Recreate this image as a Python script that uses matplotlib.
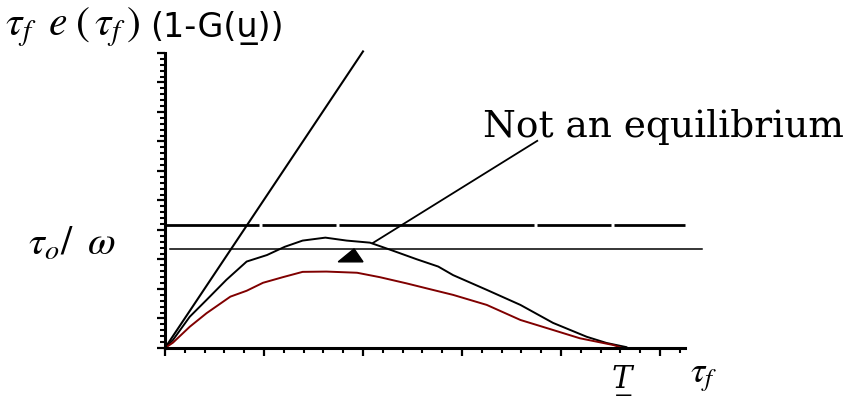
import matplotlib
matplotlib.use('Agg')
import numpy as np
import matplotlib.pyplot as plt

plt.rcParams['mathtext.fontset'] = 'stix'

# ------------------------------
# Data (x in tick units, y in tick units)

# black curve with the hump
hump_x = [0, 0.08, 0.25, 0.42, 0.62, 0.825, 1.03, 1.21, 1.39, 1.62, 1.835, 2.07,
          2.30, 2.54, 2.76, 2.91, 3.25, 3.59, 3.92, 4.26, 4.46, 4.66]
hump_y = [0, 0.27, 1.06, 1.63, 2.31, 2.93, 3.15, 3.43, 3.64, 3.74, 3.64, 3.57,
          3.30, 3.01, 2.76, 2.47, 1.97, 1.46, 0.85, 0.38, 0.17, 0.03]

# dark red curve
red_x = [0, 0.08, 0.25, 0.42, 0.66, 0.825, 0.99, 1.19, 1.39, 1.63, 1.94, 2.17,
         2.44, 2.68, 2.91, 3.25, 3.59, 3.92, 4.19, 4.53, 4.62]
red_y = [0, 0.18, 0.72, 1.18, 1.74, 1.94, 2.21, 2.40, 2.58, 2.59, 2.55, 2.40,
         2.19, 1.99, 1.80, 1.46, 0.95, 0.61, 0.33, 0.10, 0]

# steep straight line from the origin
steep_x = [0, 2.0]
steep_y = [0, 10.05]

# tau_0 / omega level (broken line) and the lower level line
upper_level = 4.17
upper_pieces = [(0, 0.95), (0.98, 1.73), (1.76, 3.73), (3.76, 4.51), (4.54, 5.25)]
lower_level = 3.36
lower_x = [0.05, 5.42]

# annotation pointer and the small black triangle
pointer_x = [2.10, 3.76]
pointer_y = [3.56, 7.02]
tri_x = [1.75, 2.0, 1.91]
tri_y = [2.92, 2.92, 3.36]

# axis extents (no tick labels in the original)
x_axis_end = 5.25
y_axis_end = 10

# ------------------------------
# Plotting

fig = plt.figure(figsize=(8.52, 3.98), dpi=100)
ax = fig.add_axes([165 / 852, 50 / 398, 545 / 852, 301 / 398])

ax.plot(steep_x, steep_y, color='black', lw=1.5, clip_on=False)
ax.plot(hump_x, hump_y, color='black', lw=1.4)
ax.plot(red_x, red_y, color='#800000', lw=1.4)

for x0, x1 in upper_pieces:
    ax.plot([x0, x1], [upper_level, upper_level], color='black', lw=2.0,
            solid_capstyle='butt')
ax.plot(lower_x, [lower_level, lower_level], color='black', lw=1.1)

ax.plot(pointer_x, pointer_y, color='black', lw=1.3)
ax.fill(tri_x, tri_y, color='black')

# axes look
for s in ['top', 'right']:
    ax.spines[s].set_visible(False)
ax.spines['left'].set_bounds(0, y_axis_end)
ax.spines['bottom'].set_bounds(0, x_axis_end)
ax.spines['left'].set_linewidth(2.2)
ax.spines['bottom'].set_linewidth(2.2)

ax.set_xticks(np.arange(0, x_axis_end + 0.01, 1))
ax.set_xticks(np.arange(0, x_axis_end + 0.01, 0.2), minor=True)
ax.set_yticks(np.arange(0, y_axis_end + 0.01, 1))
ax.set_yticks(np.arange(0, y_axis_end + 0.01, 0.2), minor=True)
ax.tick_params(which='major', direction='out', length=6, width=1.6,
               labelbottom=False, labelleft=False)
ax.tick_params(which='minor', direction='out', length=3.5, width=1.5)

ax.set_xlim(0, 5.505)
ax.set_ylim(0, 10.2)

# texts
fig.text(5 / 852, (398 - 35) / 398, r'$\tau_f\;\; e\;\left(\,\tau_f\,\right)$',
         fontsize=30, va='baseline', ha='left')
fig.text(150 / 852, (398 - 37) / 398, '(1-G(u\u0332))',
         fontsize=24, va='baseline', ha='left', family='DejaVu Sans')
fig.text(28 / 852, (398 - 255) / 398, r'$\tau_o/\;\;\omega$',
         fontsize=29, va='baseline', ha='left')
fig.text(483 / 852, (398 - 137) / 398, 'Not an equilibrium',
         fontsize=27, va='baseline', ha='left', family='DejaVu Serif')
fig.text(690 / 852, (398 - 382) / 398, r'$\tau_f$',
         fontsize=26, va='baseline', ha='left')
fig.text(612 / 852, (398 - 388) / 398, 'T\u0332',
         fontsize=22, va='baseline', ha='left', family='DejaVu Serif',
         style='italic')

fig.savefig('out.png', dpi=100)
